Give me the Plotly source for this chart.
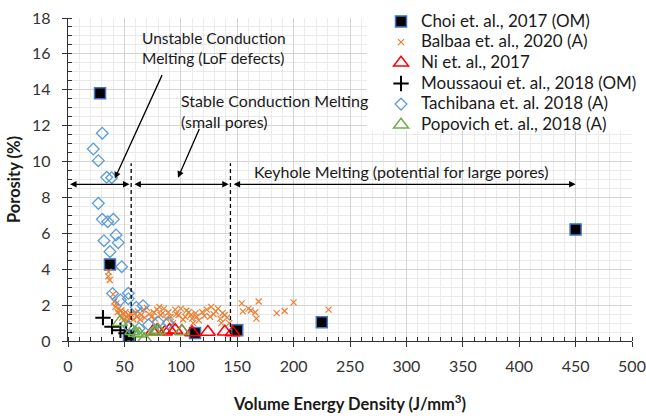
import plotly.graph_objects as go

# ---------------- data ----------------
choi_x = [28.4, 37.2, 54, 112.6, 150, 225, 450]
choi_y = [13.8, 4.27, 0.3, 0.45, 0.6, 1.04, 6.22]

balbaa_x = [35.7, 36, 37, 40, 41, 42, 43, 44, 45, 46, 47, 48, 49, 50, 51, 52, 53, 54, 55, 56,
            58, 59, 61, 62, 64, 65, 67, 68, 70, 72, 74, 76, 77, 79, 81, 82, 84, 85, 87, 89,
            91, 93, 95, 96, 98, 100, 102, 104, 105, 107, 109, 110, 111, 113, 114, 116, 119,
            121, 123, 126, 127, 129, 131, 133, 135, 136, 137, 139, 141, 143,
            154, 155, 160, 162, 166, 167, 169, 185, 192, 200, 231]
balbaa_y = [3.6, 3.85, 3.4, 2.6, 2.2, 1.9, 2.1, 1.6, 1.8, 1.4, 1.7, 1.3, 1.5, 1.2, 1.6, 1.35, 1.1, 1.45, 1.3, 1.5,
            1.2, 1.55, 1.35, 1.65, 1.2, 1.45, 1.75, 1.3, 1.85, 1.5, 1.35, 1.6, 1.25, 1.75, 1.9, 1.45, 1.55, 1.8, 1.25, 1.6,
            1.35, 1.0, 1.75, 1.5, 1.45, 1.8, 1.2, 1.35, 1.7, 1.6, 1.45, 1.25, 1.0, 1.55, 1.35, 1.15, 1.6,
            1.4, 1.75, 1.35, 1.9, 1.5, 1.65, 1.8, 1.25, 1.0, 1.55, 1.45, 1.3, 1.0,
            2.1, 1.65, 1.8, 1.7, 1.6, 1.25, 2.2, 1.55, 1.67, 2.15, 1.75]

ni_x = [75, 79, 86, 90, 95, 101, 110, 124, 139, 146]
ni_y = [0.52, 0.6, 0.52, 0.61, 0.61, 0.55, 0.48, 0.5, 0.52, 0.48]

mouss_x = [31, 39, 46.5, 51.5]
mouss_y = [1.3, 0.8, 0.6, 0.43]

tach_x = [22.4, 26.9, 30.4, 34.3, 38.7, 26.9, 30.4, 35.2, 40.2, 42.6, 44.6, 31.9, 37.2, 47.6,
          39.5, 53.5, 46.5, 53.5, 60.5, 66.5, 71.5, 80, 89, 54, 63]
tach_y = [10.7, 10.05, 11.58, 9.12, 9.1, 7.67, 6.78, 6.65, 6.78, 5.91, 5.48, 5.59, 4.98, 4.14,
          2.65, 2.66, 2.29, 2.36, 1.88, 1.97, 0.9, 1.05, 1.0, 0.8, 0.7]

pop_x = [46, 57, 60, 63, 68, 77, 80, 101]
pop_y = [1.05, 0.55, 0.45, 0.4, 0.1, 0.5, 0.6, 0.55]

x_ticks = [0, 50, 100, 150, 200, 250, 300, 350, 400, 450, 500]
y_ticks = [0, 2, 4, 6, 8, 10, 12, 14, 16, 18]

# regime boundaries (J/mm3) and span of the keyhole arrow
regime_bounds = [56, 144]
regime_arrow_y = 8.73
keyhole_end = 450

FONT = "Lato, 'Open Sans', sans-serif"
TXT = "#1a1a1a"

fig = go.Figure()

def add(name, xs, ys, symbol, size, color, lw, fill=None):
    fig.add_trace(go.Scatter(
        x=xs, y=ys, mode="markers",
        name='<span style="font-size:17px">%s</span>' % name,
        hovertemplate="%{x}, %{y}<extra>" + name + "</extra>",
        marker=dict(symbol=symbol, size=size, color=fill if fill else color,
                    line=dict(color=color, width=lw)),
    ))

add("Choi et. al., 2017 (OM)", choi_x, choi_y, "square", 11, "#4472C4", 1.5, fill="black")
add("Balbaa et. al., 2020 (A)", balbaa_x, balbaa_y, "x-thin-open", 6, "#ED7D31", 1.2)
add("Ni et. al., 2017", ni_x, ni_y, "triangle-up-open", 13, "#FF0000", 1.5)
add("Moussaoui et. al., 2018 (OM)", mouss_x, mouss_y, "cross-thin-open", 11, "black", 2)
add("Tachibana et. al. 2018 (A)", tach_x, tach_y, "diamond-open", 9, "#5B9BD5", 1.3)
add("Popovich et. al., 2018 (A)", pop_x, pop_y, "triangle-up-open", 13, "#70AD47", 1.5)

annotations = []
# text labels
annotations.append(dict(x=63.8, y=16.33, xref="x", yref="y", text="Unstable Conduction<br>Melting (LoF defects)",
                        showarrow=False, xanchor="left", yanchor="middle", align="left",
                        font=dict(family=FONT, size=15.5, color=TXT)))
annotations.append(dict(x=98.4, y=12.82, xref="x", yref="y", text="Stable Conduction Melting<br>(small pores)",
                        showarrow=False, xanchor="left", yanchor="middle", align="left",
                        font=dict(family=FONT, size=16, color=TXT)))
annotations.append(dict(x=163, y=9.42, xref="x", yref="y", text="Keyhole Melting (potential for large pores)",
                        showarrow=False, xanchor="left", yanchor="middle", align="left",
                        font=dict(family=FONT, size=16, color=TXT)))
# pointer arrows
for (x0, y0, x1, y1) in [(84, 14.9, 41.5, 9.05), (117, 11.9, 97.5, 9.1)]:
    annotations.append(dict(x=x1, y=y1, ax=x0, ay=y0, xref="x", yref="y", axref="x", ayref="y",
                            text="", showarrow=True, arrowhead=2, arrowsize=1, arrowwidth=1.3,
                            arrowcolor="black", standoff=0, startstandoff=0))
# horizontal double-headed regime arrows
spans = [(0.5, regime_bounds[0] - 1.5), (regime_bounds[0] + 1.5, regime_bounds[1] - 1.5),
         (regime_bounds[1] + 1.5, keyhole_end)]
for (x0, x1) in spans:
    annotations.append(dict(x=x1, y=regime_arrow_y, ax=x0, ay=regime_arrow_y, xref="x", yref="y",
                            axref="x", ayref="y", text="", showarrow=True, arrowhead=2, startarrowhead=2,
                            arrowside="end+start", arrowsize=1, arrowwidth=1.3, arrowcolor="black",
                            standoff=0, startstandoff=0))

shapes = []
for b in regime_bounds:
    shapes.append(dict(type="line", xref="x", yref="y", x0=b, x1=b, y0=0, y1=9.9,
                       line=dict(color="black", width=1.3, dash="4px,3px"), layer="above"))
# white box behind the legend (hides gridlines)
shapes.append(dict(type="rect", xref="x", yref="y", x0=265, x1=500, y0=11.7, y1=18,
                   fillcolor="white", line=dict(width=0), layer="between"))

fig.update_layout(
    width=646, height=416,
    margin=dict(l=68, r=14, t=18, b=75, autoexpand=False),
    paper_bgcolor="white", plot_bgcolor="white",
    font=dict(family=FONT, size=16, color="#333333"),
    showlegend=True,
    legend=dict(x=0.555, y=1.037, xanchor="left", yanchor="top", bgcolor="rgba(0,0,0,0)",
                font=dict(family=FONT, size=13.6, color=TXT), itemwidth=30,
                tracegroupgap=0),
    annotations=annotations,
    shapes=shapes,
)

fig.update_xaxes(
    range=[0, 500], tickvals=x_ticks, ticktext=[str(v) for v in x_ticks],
    automargin=False,
    showgrid=True, gridcolor="#D4D4D4", gridwidth=1,
    minor=dict(dtick=10, tick0=0, showgrid=True, gridcolor="#EBEBEB", gridwidth=1,
               ticks="inside", ticklen=4, tickcolor="#333333", tickwidth=1),
    ticks="outside", ticklen=5, tickcolor="#333333", tickwidth=1,
    showline=True, linecolor="#333333", linewidth=1.3, zeroline=False,
    ticklabelstandoff=6,
    title=dict(text="<b>Volume Energy Density (J/mm<sup>3</sup>)</b>", standoff=24,
               font=dict(family=FONT, size=16.5, color=TXT)),
)
fig.update_yaxes(
    range=[0, 18], tickvals=y_ticks, ticktext=[str(v) for v in y_ticks],
    automargin=False,
    showgrid=True, gridcolor="#D4D4D4", gridwidth=1,
    minor=dict(dtick=0.5, tick0=0, showgrid=True, gridcolor="#EBEBEB", gridwidth=1,
               ticks="inside", ticklen=4, tickcolor="#333333", tickwidth=1),
    ticks="outside", ticklen=5, tickcolor="#333333", tickwidth=1,
    showline=True, linecolor="#333333", linewidth=1.3, zeroline=False,
    ticklabelstandoff=8,
    title=dict(text="<b>Porosity (%)</b>", standoff=7,
               font=dict(family=FONT, size=16.5, color=TXT)),
)

fig.write_html("out.html")
